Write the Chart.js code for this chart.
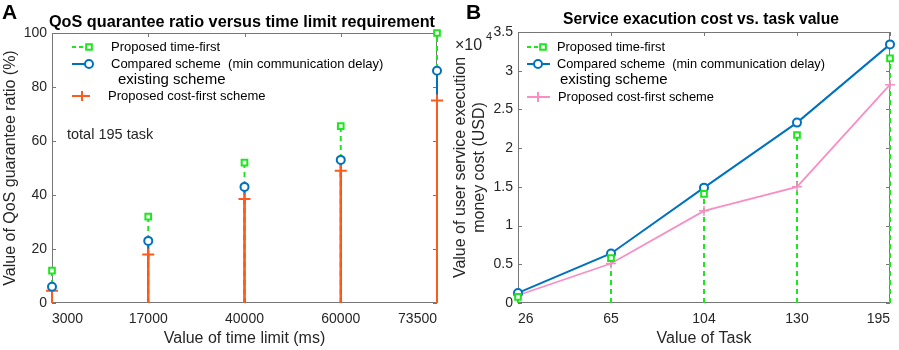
<!DOCTYPE html>
<html>
<head>
<meta charset="utf-8">
<script src="https://cdn.jsdelivr.net/npm/chart.js@4.4.0/dist/chart.umd.min.js"></script>
<style>
  body { margin: 0; background: #fff; }
  #wrapA { position: absolute; left: 0; top: 0; width: 450px; height: 350px; }
  #wrapB { position: absolute; left: 450px; top: 0; width: 449px; height: 350px; }
</style>
</head>
<body>
<div id="wrapA"><canvas id="chartA" width="450" height="350"></canvas></div>
<div id="wrapB"><canvas id="chartB" width="449" height="350"></canvas></div>
<script>
// Panel A - QoS guarantee ratio (%) per time limit
const timeLimits = ['3000', '17000', '40000', '60000', '73500'];
const qosTimeFirst = [12, 32, 52, 65.5, 100];
const qosCompared = [6, 23, 43, 53, 86];
const qosCostFirst = [4.5, 18, 38.5, 49, 75];

// Panel B - service execution cost (USD) per task count
const taskValues = ['26', '65', '104', '130', '195'];
const costTimeFirst = [800, 5800, 14100, 21700, 31600];
const costCompared = [1300, 6400, 14900, 23300, 33400];
const costCostFirst = [1000, 5100, 11900, 15000, 28200];

const GREEN = '#1ee61e';
const BLUE = '#0072bd';
const ORANGE = '#ff5a1e';
const PINK = '#f78fc4';
const FONT = "'Liberation Sans', Arial, sans-serif";
const TXT = '#262626';

Chart.defaults.font.family = FONT;
Chart.defaults.color = TXT;

// stems, box, inward ticks, and the text bits drawn on top of the plot
const panelPlugin = {
  id: 'panel',
  beforeDatasetsDraw(chart) {
    const { ctx, chartArea: a, scales } = chart;
    ctx.save();
    // box
    ctx.strokeStyle = '#777';
    ctx.lineWidth = 1;
    ctx.strokeRect(a.left + 0.5, a.top + 0.5, a.right - a.left - 1, a.bottom - a.top - 1);
    // inward ticks
    ctx.beginPath();
    scales.y.ticks.forEach(t => {
      const y = Math.round(scales.y.getPixelForValue(t.value)) + 0.5;
      ctx.moveTo(a.left, y); ctx.lineTo(a.left + 4, y);
      ctx.moveTo(a.right, y); ctx.lineTo(a.right - 4, y);
    });
    scales.x.ticks.forEach((t, i) => {
      const x = Math.round(scales.x.getPixelForTick(i)) + 0.5;
      ctx.moveTo(x, a.bottom); ctx.lineTo(x, a.bottom - 4);
      ctx.moveTo(x, a.top); ctx.lineTo(x, a.top + 4);
    });
    ctx.stroke();
    // stems from zero up to each point
    const y0 = scales.y.getPixelForValue(0);
    chart.data.datasets.forEach((ds, i) => {
      if (!ds.stem) return;
      ctx.strokeStyle = ds.borderColor;
      ctx.lineWidth = 2;
      ctx.setLineDash(ds.stemDash || []);
      ctx.beginPath();
      chart.getDatasetMeta(i).data.forEach(pt => {
        ctx.moveTo(pt.x, y0);
        ctx.lineTo(pt.x, pt.y);
      });
      ctx.stroke();
    });
    ctx.restore();
  },
  afterDraw(chart, args, opts) {
    const ctx = chart.ctx;
    ctx.save();
    ctx.fillStyle = '#000';
    ctx.textBaseline = 'middle';
    ctx.font = 'bold 21px ' + FONT;
    ctx.textAlign = 'left';
    ctx.fillText(opts.letter, opts.letterX, 13);
    ctx.font = 'bold 17px ' + FONT;
    ctx.textAlign = 'center';
    ctx.fillText(opts.title, opts.titleX, opts.titleY, opts.titleW);

    // legend
    ctx.textAlign = 'left';
    opts.legend.forEach(e => {
      ctx.strokeStyle = e.color;
      ctx.lineWidth = 2;
      ctx.setLineDash(e.dash || []);
      ctx.beginPath();
      ctx.moveTo(e.x0, e.y); ctx.lineTo(e.x1, e.y);
      ctx.stroke();
      ctx.setLineDash([]);
      ctx.fillStyle = '#fff';
      Chart.helpers.drawPoint(ctx, { pointStyle: e.style, radius: e.r, rotation: 0, borderWidth: 2 }, e.mx, e.y);
      ctx.fillStyle = '#000';
      ctx.font = '13px ' + FONT;
      ctx.fillText(e.lines[0], e.tx, e.y, e.tw);
      if (e.lines[1]) {
        ctx.font = '15px ' + FONT;
        ctx.fillText(e.lines[1], e.tx + e.indent, e.y + 16);
      }
    });

    (opts.notes || []).forEach(n => {
      ctx.font = n.font;
      ctx.fillStyle = TXT;
      ctx.fillText(n.text, n.x, n.y);
    });
    ctx.restore();
  }
};

function yScale(min, max, step, width, title, cb) {
  return {
    min: min, max: max,
    grid: { display: false, drawTicks: false },
    border: { display: false },
    ticks: { stepSize: step, padding: 5, font: { size: 14 }, color: TXT, callback: cb },
    title: { display: true, text: title, font: { size: 16 }, color: TXT, padding: { top: 1, bottom: 0 }, lineHeight: 1.25 },
    afterFit(s) { s.width = width; s.paddingTop = 0; s.paddingBottom = 0; }
  };
}

function xScale(title) {
  return {
    grid: { display: false, drawTicks: false },
    border: { display: false },
    offset: false,
    ticks: { padding: 8, font: { size: 14 }, color: TXT, maxRotation: 0, autoSkip: false, align: 'inner' },
    title: { display: true, text: title, font: { size: 16 }, color: TXT, padding: { top: 0, bottom: 2 } },
    afterFit(s) { s.height = 47; s.paddingLeft = 0; s.paddingRight = 0; }
  };
}

const hollow = '#fff';

new Chart(document.getElementById('chartA'), {
  type: 'line',
  data: {
    labels: timeLimits,
    datasets: [
      { label: 'Proposed time-first', data: qosTimeFirst, showLine: false, stem: true, stemDash: [5, 4],
        borderColor: GREEN, pointStyle: 'rect', pointRadius: 4, pointBorderWidth: 2, pointBackgroundColor: hollow, clip: false },
      { label: 'Compared scheme', data: qosCompared, showLine: false, stem: true,
        borderColor: BLUE, pointStyle: 'circle', pointRadius: 4, pointBorderWidth: 2, pointBackgroundColor: hollow, clip: false },
      { label: 'Proposed cost-first scheme', data: qosCostFirst, showLine: false, stem: true,
        borderColor: ORANGE, pointStyle: 'cross', pointRadius: 6, pointBorderWidth: 2, clip: false }
    ]
  },
  options: {
    responsive: false,
    animation: false,
    devicePixelRatio: 1,
    layout: { padding: { top: 33, right: 13, bottom: 0, left: 0 } },
    plugins: {
      legend: { display: false },
      tooltip: { enabled: false },
      panel: {
        letter: 'A', letterX: 2,
        title: 'QoS quarantee ratio versus time limit requirement', titleX: 242, titleY: 22, titleW: 386,
        legend: [
          { lines: ['Proposed time-first'], color: GREEN, dash: [4, 3], style: 'rect', r: 4, x0: 72, x1: 88, mx: 89, y: 47, tx: 111, tw: 113 },
          { lines: ['Compared scheme  (min communication delay)', 'existing scheme'], color: BLUE, style: 'circle', r: 4, x0: 72, x1: 88, mx: 89, y: 64, tx: 111, indent: 7, tw: 278 },
          { lines: ['Proposed cost-first scheme'], color: ORANGE, style: 'cross', r: 5, x0: 72, x1: 90, mx: 82, y: 96, tx: 108, tw: 160 }
        ],
        notes: [{ text: 'total 195 task', x: 67, y: 135, font: '14.5px ' + FONT }]
      }
    },
    scales: {
      x: xScale('Value of time limit (ms)'),
      y: yScale(0, 100, 20, 52, 'Value of QoS guarantee ratio (%)')
    }
  },
  plugins: [panelPlugin]
});

new Chart(document.getElementById('chartB'), {
  type: 'line',
  data: {
    labels: taskValues,
    datasets: [
      { label: 'Proposed time-first', data: costTimeFirst, showLine: false, stem: true, stemDash: [5, 4],
        borderColor: GREEN, pointStyle: 'rect', pointRadius: 4, pointBorderWidth: 2, pointBackgroundColor: hollow, clip: false },
      { label: 'Compared scheme', data: costCompared, borderColor: BLUE, borderWidth: 2,
        pointStyle: 'circle', pointRadius: 4, pointBorderWidth: 2, pointBackgroundColor: hollow, clip: false },
      { label: 'Proposed cost-first scheme', data: costCostFirst, borderColor: PINK, borderWidth: 1.8,
        pointStyle: 'cross', pointRadius: 5, pointBorderWidth: 1.5, clip: false }
    ]
  },
  options: {
    responsive: false,
    animation: false,
    devicePixelRatio: 1,
    layout: { padding: { top: 32, right: 9, bottom: 0, left: 0 } },
    plugins: {
      legend: { display: false },
      tooltip: { enabled: false },
      panel: {
        letter: 'B', letterX: 16,
        title: 'Service exacution cost vs. task value', titleX: 251, titleY: 19, titleW: 276,
        legend: [
          { lines: ['Proposed time-first'], color: GREEN, dash: [4, 3], style: 'rect', r: 4, x0: 77, x1: 92, mx: 93, y: 47, tx: 107, tw: 108 },
          { lines: ['Compared scheme  (min communication delay)', 'existing scheme'], color: BLUE, style: 'circle', r: 4, x0: 77, x1: 100, mx: 88, y: 64, tx: 107, indent: 3, tw: 268 },
          { lines: ['Proposed cost-first scheme'], color: PINK, style: 'cross', r: 5, x0: 77, x1: 100, mx: 88, y: 97, tx: 108, tw: 156 }
        ],
        notes: [
          { text: '\u00d710', x: 5, y: 46, font: '16px ' + FONT },
          { text: '4', x: 36, y: 37, font: '11px ' + FONT }
        ]
      }
    },
    scales: {
      x: xScale('Value of Task'),
      y: yScale(0, 35000, 5000, 68, ['Value of user service execution', 'money cost (USD)'], v => String(v / 10000))
    }
  },
  plugins: [panelPlugin]
});
</script>
</body>
</html>
